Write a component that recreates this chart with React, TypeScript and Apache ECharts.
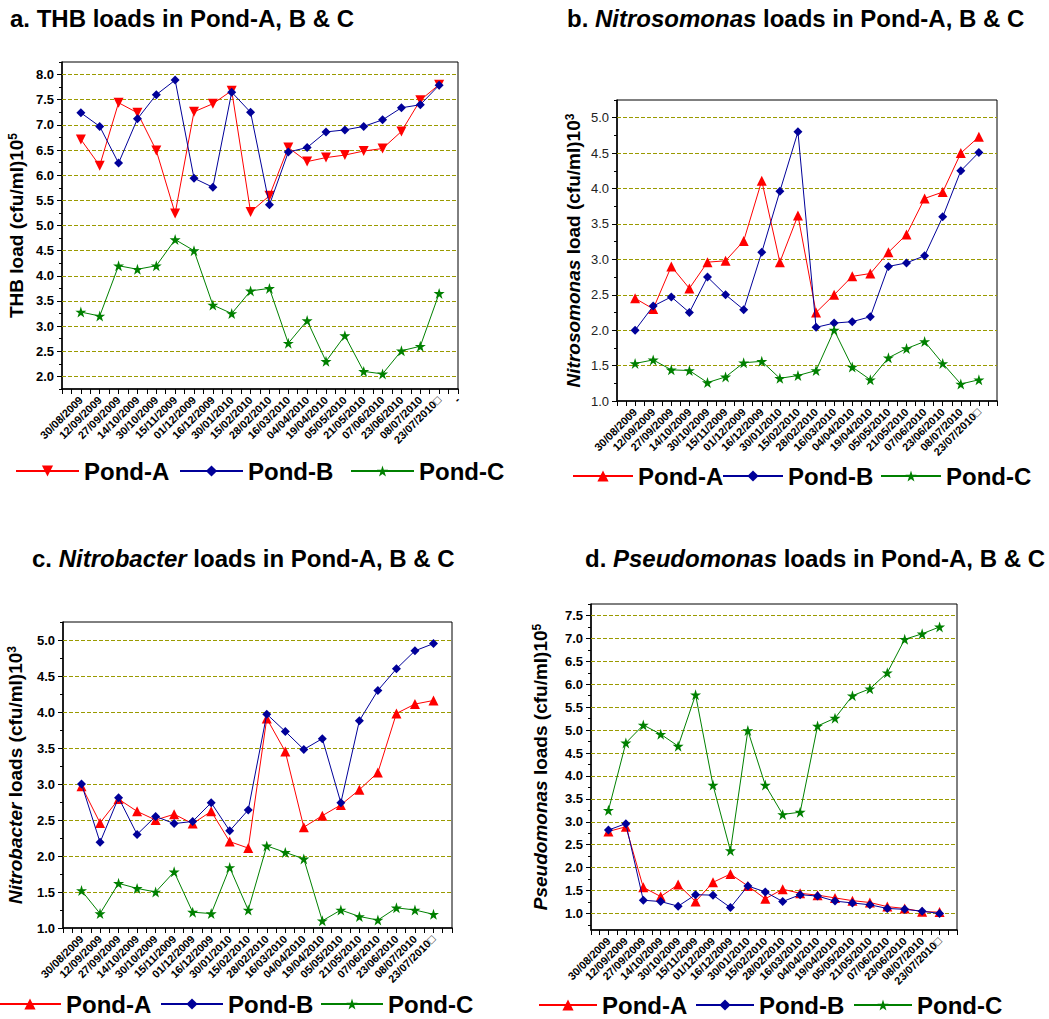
import React, { useEffect, useRef } from 'react';
import * as echarts from 'echarts';

// ---------- data ----------
const dates = [
  '30/08/2009', '12/09/2009', '27/09/2009', '14/10/2009', '30/10/2009',
  '15/11/2009', '01/12/2009', '16/12/2009', '30/01/2010', '15/02/2010',
  '28/02/2010', '16/03/2010', '04/04/2010', '19/04/2010', '05/05/2010',
  '21/05/2010', '07/06/2010', '23/06/2010', '08/07/2010', '23/07/2010\u25A1',
];
const seriesNames = ['Pond-A', 'Pond-B', 'Pond-C'];

const thbA = [6.71, 6.19, 7.44, 7.24, 6.49, 5.24, 7.26, 7.42, 7.68, 5.27, 5.59, 6.55, 6.27, 6.35, 6.40, 6.48, 6.53, 6.87, 7.49, 7.80];
const thbB = [7.24, 6.97, 6.24, 7.12, 7.60, 7.89, 5.94, 5.76, 7.65, 7.25, 5.41, 6.46, 6.55, 6.86, 6.90, 6.97, 7.10, 7.34, 7.40, 7.79];
const thbC = [3.28, 3.20, 4.20, 4.13, 4.20, 4.72, 4.50, 3.42, 3.25, 3.70, 3.75, 2.66, 3.11, 2.30, 2.81, 2.10, 2.05, 2.51, 2.60, 3.65];

const nsA = [2.45, 2.30, 2.90, 2.59, 2.96, 2.98, 3.26, 4.11, 2.96, 3.62, 2.25, 2.50, 2.76, 2.80, 3.10, 3.35, 3.86, 3.95, 4.50, 4.73];
const nsB = [2.00, 2.34, 2.47, 2.25, 2.75, 2.50, 2.29, 3.10, 3.96, 4.80, 2.04, 2.10, 2.12, 2.19, 2.90, 2.95, 3.05, 3.60, 4.25, 4.51];
const nsC = [1.53, 1.58, 1.44, 1.43, 1.26, 1.34, 1.54, 1.56, 1.32, 1.36, 1.43, 2.00, 1.48, 1.30, 1.61, 1.74, 1.84, 1.53, 1.24, 1.30];

const nbA = [2.97, 2.46, 2.79, 2.62, 2.50, 2.58, 2.45, 2.62, 2.20, 2.11, 3.91, 3.45, 2.40, 2.56, 2.71, 2.92, 3.16, 3.98, 4.11, 4.16];
const nbB = [3.00, 2.19, 2.81, 2.30, 2.55, 2.45, 2.48, 2.74, 2.35, 2.64, 3.97, 3.73, 3.48, 3.63, 2.74, 3.88, 4.30, 4.60, 4.85, 4.95];
const nbC = [1.52, 1.20, 1.62, 1.55, 1.50, 1.78, 1.22, 1.20, 1.84, 1.25, 2.14, 2.05, 1.96, 1.10, 1.25, 1.16, 1.11, 1.28, 1.25, 1.19];

const psA = [2.79, 2.89, 1.57, 1.37, 1.63, 1.26, 1.68, 1.86, 1.60, 1.32, 1.53, 1.44, 1.40, 1.34, 1.28, 1.24, 1.15, 1.11, 1.04, 1.03];
const psB = [2.82, 2.96, 1.29, 1.26, 1.16, 1.41, 1.40, 1.13, 1.60, 1.47, 1.26, 1.41, 1.38, 1.27, 1.23, 1.19, 1.11, 1.09, 1.05, 1.00];
const psC = [3.25, 4.72, 5.11, 4.91, 4.65, 5.77, 3.80, 2.37, 4.99, 3.80, 3.16, 3.21, 5.09, 5.26, 5.75, 5.90, 6.25, 6.98, 7.10, 7.25];

// ---------- styles ----------
const FONT = '"Liberation Sans", Arial, Helvetica, sans-serif';
const COLORS = ['#ff0000', '#000099', '#008000'];
const GRID_COLOR = '#9a9a00';
const TRI_DOWN = 'path://M0,0L10,0L5,8.66Z';
const STAR = 'path://M50,0L61.2,34.5L97.6,34.5L68.2,55.9L79.4,90.5L50,69.1L20.6,90.5L31.8,55.9L2.4,34.5L38.8,34.5Z';

const panels = [
  {
    key: 'a', title: 'a. THB loads in Pond-A, B & C', titlePos: [10, 6],
    yName: 'THB load (cfu/ml)10{s|5}', nameGap: 36,
    values: [thbA, thbB, thbC], min: 1.75, max: 8.25,
    grid: { left: 62, top: 62, width: 396, height: 327 },
    yBold: true, symbols: [TRI_DOWN, 'diamond', STAR], extra: '-',
    legendY: 472, legendX: [15, 179, 350], legendW: 63,
  },
  {
    key: 'b', title: 'b. {i|Nitrosomonas} loads in Pond-A, B & C', titlePos: [567, 6],
    yName: '{i|Nitrosomonas} load (cfu/ml)10{s|3}', nameGap: 34,
    values: [nsA, nsB, nsC], min: 1.0, max: 5.25,
    grid: { left: 617, top: 100, width: 380, height: 301 },
    yBold: false, symbols: ['triangle', 'diamond', STAR], extra: '',
    legendY: 477, legendX: [572, 722, 880], legendW: 60,
  },
  {
    key: 'c', title: 'c. {i|Nitrobacter} loads in Pond-A, B & C', titlePos: [32, 546],
    yName: '{i|Nitrobacter} loads (cfu/ml)10{s|3}', nameGap: 38,
    values: [nbA, nbB, nbC], min: 1.0, max: 5.25,
    grid: { left: 63, top: 622, width: 389, height: 306 },
    yBold: true, symbols: ['triangle', 'diamond', STAR], extra: '',
    legendY: 1005, legendX: [-2, 160, 320], legendW: 62,
  },
  {
    key: 'd', title: 'd. {i|Pseudomonas} loads in Pond-A, B & C', titlePos: [585, 546],
    yName: '{i|Pseudomonas} loads (cfu/ml)10{s|5}', nameGap: 41,
    values: [psA, psB, psC], min: 0.64, max: 7.75,
    grid: { left: 591, top: 604, width: 366, height: 326 },
    yBold: true, symbols: ['triangle', 'diamond', STAR], extra: '',
    legendY: 1006, legendX: [538, 695, 853], legendW: 58,
  },
];

function steps(from: number, to: number, step: number) {
  const out: number[] = [];
  for (let k = 0; k < 200; k++) {
    const v = +(from + k * step).toFixed(4);
    if (v > to + 1e-9) break;
    out.push(v);
  }
  return out;
}

function buildOption() {
  const grid: any[] = [];
  const xAxis: any[] = [];
  const yAxis: any[] = [];
  const series: any[] = [];
  const legend: any[] = [];
  const title: any[] = [];

  panels.forEach((p, pi) => {
    grid.push({ ...p.grid, show: true, borderColor: '#000', borderWidth: 1, backgroundColor: 'transparent', containLabel: false });

    title.push({
      text: p.title, left: p.titlePos[0], top: p.titlePos[1], padding: 0,
      textStyle: {
        fontFamily: FONT, fontSize: 24, fontWeight: 'bold', color: '#000',
        rich: { i: { fontFamily: FONT, fontSize: 24, fontWeight: 'bold', fontStyle: 'italic', color: '#000' } },
      },
    });

    const labelFor = (v: number) => {
      const i = Math.round(v);
      if (Math.abs(v - i) > 1e-6) return '';
      if (i >= 1 && i <= dates.length) return dates[i - 1];
      if (i === dates.length + 1 && p.extra) return p.extra;
      return '';
    };

    xAxis.push({
      type: 'value', gridIndex: pi, min: 0, max: dates.length + 1, interval: 1,
      axisLine: { show: true, onZero: false, lineStyle: { color: '#000', width: 1.5 } },
      axisTick: { show: true, length: 5, lineStyle: { color: '#000', width: 1 } },
      minorTick: { show: true, splitNumber: 2, length: 5, lineStyle: { color: '#000', width: 1 } },
      splitLine: { show: false }, minorSplitLine: { show: false },
      axisLabel: {
        rotate: 45, fontSize: 11, fontWeight: 'bold', color: '#000', fontFamily: FONT, margin: 9,
        formatter: labelFor, showMinLabel: true, showMaxLabel: true,
      },
    });

    const majors = steps(Math.ceil(p.min / 0.5 - 1e-9) * 0.5, p.max, 0.5);
    const minors = steps(Math.ceil(p.min / 0.25 - 1e-9) * 0.25, p.max, 0.25)
      .filter((v) => Math.abs(v * 2 - Math.round(v * 2)) > 1e-6);
    const gridVals = majors.filter((v) => v > p.min + 1e-6 && v < p.max - 1e-6);

    yAxis.push({
      type: 'value', gridIndex: pi, min: p.min, max: p.max, position: 'left',
      axisLine: { show: true, onZero: false, lineStyle: { color: '#000', width: 1.5 } },
      axisTick: { show: true, length: 5, customValues: majors, lineStyle: { color: '#000', width: 1 } },
      axisLabel: {
        customValues: majors, formatter: (v: number) => v.toFixed(1),
        fontSize: 13, fontWeight: p.yBold ? 'bold' : 'normal', color: p.yBold ? '#000' : '#222',
        fontFamily: FONT, margin: 8,
      },
      splitLine: { show: false },
      name: p.yName, nameLocation: 'middle', nameGap: p.nameGap, nameRotate: 90,
      nameTextStyle: {
        fontFamily: FONT, fontSize: 19, fontWeight: 'bold', color: '#000',
        rich: {
          i: { fontFamily: FONT, fontSize: 19, fontWeight: 'bold', fontStyle: 'italic', color: '#000' },
          s: { fontFamily: FONT, fontSize: 12, fontWeight: 'bold', color: '#000', verticalAlign: 'top' },
        },
      },
    });
    yAxis.push({
      type: 'value', gridIndex: pi, min: p.min, max: p.max, position: 'left',
      axisLine: { show: false },
      axisTick: { show: true, length: 3, customValues: minors, lineStyle: { color: '#000', width: 1 } },
      axisLabel: { show: false },
      splitLine: { show: false },
    });

    p.values.forEach((vals, si) => {
      const name = p.key + ':' + seriesNames[si];
      const s: any = {
        type: 'line', name, xAxisIndex: pi, yAxisIndex: pi * 2,
        data: vals.map((v, i) => [i + 1, v]),
        symbol: p.symbols[si],
        symbolSize: si === 0 ? 10 : si === 1 ? 9 : 11,
        lineStyle: { color: COLORS[si], width: 1 },
        itemStyle: { color: COLORS[si] },
        z: 3 + si,
        animation: false,
      };
      if (si === 0) {
        s.markLine = {
          silent: true, symbol: ['none', 'none'], z: 1, animation: false,
          label: { show: false },
          lineStyle: { color: GRID_COLOR, type: [4, 2], width: 1 },
          emphasis: { disabled: true },
          data: gridVals.map((v) => ({ yAxis: v })),
        };
      }
      series.push(s);

      legend.push({
        data: [name], left: p.legendX[si], top: p.legendY - 13, padding: 0,
        itemWidth: p.legendW, itemHeight: 14, itemGap: 0, selectedMode: false,
        formatter: (n: string) => n.split(':')[1],
        textStyle: { fontFamily: FONT, fontSize: 24, fontWeight: 'bold', color: '#000' },
      });
    });
  });

  return {
    animation: false,
    backgroundColor: '#fff',
    textStyle: { fontFamily: FONT },
    title, grid, xAxis, yAxis, series, legend,
  };
}

export default function App() {
  const ref = useRef<HTMLDivElement>(null);
  useEffect(() => {
    document.body.style.margin = '0';
    if (!ref.current) return;
    const chart = echarts.init(ref.current, undefined, { renderer: 'svg' });
    chart.setOption(buildOption() as any);
    return () => chart.dispose();
  }, []);
  return <div ref={ref} style={{ width: 1049, height: 1019 }} />;
}
